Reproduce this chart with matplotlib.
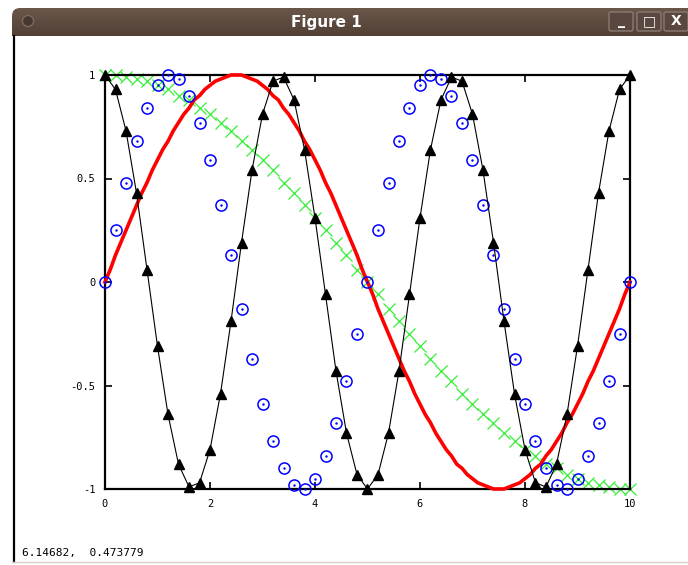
import numpy as np
import matplotlib
matplotlib.use("Agg")
import matplotlib.pyplot as plt
from matplotlib.patches import FancyBboxPatch, Ellipse
from matplotlib.lines import Line2D

# sample positions (step 0.2) for the marker series
x = [0.0, 0.2, 0.4, 0.6, 0.8, 1.0, 1.2, 1.4, 1.6, 1.8,
     2.0, 2.2, 2.4, 2.6, 2.8, 3.0, 3.2, 3.4, 3.6, 3.8,
     4.0, 4.2, 4.4, 4.6, 4.8, 5.0, 5.2, 5.4, 5.6, 5.8,
     6.0, 6.2, 6.4, 6.6, 6.8, 7.0, 7.2, 7.4, 7.6, 7.8,
     8.0, 8.2, 8.4, 8.6, 8.8, 9.0, 9.2, 9.4, 9.6, 9.8, 10.0]

# thick red curve, read every 0.1
x_red = [0.0, 0.1, 0.2, 0.3, 0.4, 0.5, 0.6, 0.7, 0.8, 0.9,
         1.0, 1.1, 1.2, 1.3, 1.4, 1.5, 1.6, 1.7, 1.8, 1.9,
         2.0, 2.1, 2.2, 2.3, 2.4, 2.5, 2.6, 2.7, 2.8, 2.9,
         3.0, 3.1, 3.2, 3.3, 3.4, 3.5, 3.6, 3.7, 3.8, 3.9,
         4.0, 4.1, 4.2, 4.3, 4.4, 4.5, 4.6, 4.7, 4.8, 4.9,
         5.0, 5.1, 5.2, 5.3, 5.4, 5.5, 5.6, 5.7, 5.8, 5.9,
         6.0, 6.1, 6.2, 6.3, 6.4, 6.5, 6.6, 6.7, 6.8, 6.9,
         7.0, 7.1, 7.2, 7.3, 7.4, 7.5, 7.6, 7.7, 7.8, 7.9,
         8.0, 8.1, 8.2, 8.3, 8.4, 8.5, 8.6, 8.7, 8.8, 8.9,
         9.0, 9.1, 9.2, 9.3, 9.4, 9.5, 9.6, 9.7, 9.8, 9.9, 10.0]
red = [0.00, 0.06, 0.13, 0.19, 0.25, 0.31, 0.37, 0.43, 0.48, 0.54,
       0.59, 0.64, 0.68, 0.73, 0.77, 0.81, 0.84, 0.88, 0.90, 0.93,
       0.95, 0.97, 0.98, 0.99, 1.00, 1.00, 1.00, 0.99, 0.98, 0.97,
       0.95, 0.93, 0.90, 0.88, 0.84, 0.81, 0.77, 0.73, 0.68, 0.64,
       0.59, 0.54, 0.48, 0.43, 0.37, 0.31, 0.25, 0.19, 0.13, 0.06,
       0.00, -0.06, -0.13, -0.19, -0.25, -0.31, -0.37, -0.43, -0.48, -0.54,
       -0.59, -0.64, -0.68, -0.73, -0.77, -0.81, -0.84, -0.88, -0.90, -0.93,
       -0.95, -0.97, -0.98, -0.99, -1.00, -1.00, -1.00, -0.99, -0.98, -0.97,
       -0.95, -0.93, -0.90, -0.88, -0.84, -0.81, -0.77, -0.73, -0.68, -0.64,
       -0.59, -0.54, -0.48, -0.43, -0.37, -0.31, -0.25, -0.19, -0.13, -0.06, 0.00]

# black triangles joined by a thin line
black = [1.00, 0.93, 0.73, 0.43, 0.06, -0.31, -0.64, -0.88, -0.99, -0.97,
         -0.81, -0.54, -0.19, 0.19, 0.54, 0.81, 0.97, 0.99, 0.88, 0.64,
         0.31, -0.06, -0.43, -0.73, -0.93, -1.00, -0.93, -0.73, -0.43, -0.06,
         0.31, 0.64, 0.88, 0.99, 0.97, 0.81, 0.54, 0.19, -0.19, -0.54,
         -0.81, -0.97, -0.99, -0.88, -0.64, -0.31, 0.06, 0.43, 0.73, 0.93, 1.00]

# blue circles
blue = [0.00, 0.25, 0.48, 0.68, 0.84, 0.95, 1.00, 0.98, 0.90, 0.77,
        0.59, 0.37, 0.13, -0.13, -0.37, -0.59, -0.77, -0.90, -0.98, -1.00,
        -0.95, -0.84, -0.68, -0.48, -0.25, 0.00, 0.25, 0.48, 0.68, 0.84,
        0.95, 1.00, 0.98, 0.90, 0.77, 0.59, 0.37, 0.13, -0.13, -0.37,
        -0.59, -0.77, -0.90, -0.98, -1.00, -0.95, -0.84, -0.68, -0.48, -0.25, 0.00]

# green crosses
green = [1.00, 1.00, 0.99, 0.98, 0.97, 0.95, 0.93, 0.90, 0.88, 0.84,
         0.81, 0.77, 0.73, 0.68, 0.64, 0.59, 0.54, 0.48, 0.43, 0.37,
         0.31, 0.25, 0.19, 0.13, 0.06, 0.00, -0.06, -0.13, -0.19, -0.25,
         -0.31, -0.37, -0.43, -0.48, -0.54, -0.59, -0.64, -0.68, -0.73, -0.77,
         -0.81, -0.84, -0.88, -0.90, -0.93, -0.95, -0.97, -0.98, -0.99, -1.00, -1.00]

xticks = [0, 2, 4, 6, 8, 10]
yticks = [-1, -0.5, 0, 0.5, 1]
yticklabels = ["-1", "-0.5", "0", "0.5", "1"]

W, H = 688, 565
fig = plt.figure(figsize=(W / 100, H / 100), dpi=100)
fig.patch.set_facecolor("white")

def fx(px):
    return px / W

def fy(py):
    return 1 - py / H

# window title bar: vertical gradient, rounded top-left corner
tb = fig.add_axes([fx(12), fy(36), fx(W - 12), fy(8) - fy(36)])
grad = np.linspace(0, 1, 64).reshape(-1, 1)
top_c = np.array([0.42, 0.34, 0.29])
bot_c = np.array([0.32, 0.25, 0.21])
img = top_c[None, None, :] * (1 - grad[:, :, None]) + bot_c[None, None, :] * grad[:, :, None]
im = tb.imshow(img, aspect="auto", extent=[0, 1, 0, 1])
clip = FancyBboxPatch((0, -0.5), 1.2, 1.5, boxstyle="round,pad=0,rounding_size=0.012",
                      mutation_aspect=24, transform=tb.transAxes,
                      facecolor="none", edgecolor="none")
tb.add_patch(clip)
im.set_clip_path(clip)
tb.set_xlim(0, 1)
tb.set_ylim(0, 1)
tb.set_axis_off()
tb.text(0.465, 0.5, "Figure 1", color="white", fontsize=11, fontweight="bold",
        ha="center", va="center", family="DejaVu Sans")
fig.patches.append(Ellipse((fx(28), fy(21)), fx(11), 11 / H, transform=fig.transFigure,
                           facecolor="#47382f", edgecolor="#7d6c62", lw=0.9))
# window buttons
for bx, sym in [(609, "_"), (637, "□"), (664, "X")]:
    fig.patches.append(FancyBboxPatch((fx(bx), fy(31)), fx(24), fy(12) - fy(31),
                                      boxstyle="round,pad=0,rounding_size=0.003",
                                      transform=fig.transFigure, facecolor="#5a4840",
                                      edgecolor="#8a7a70", lw=1))
    fig.text(fx(bx + 12), fy(21), sym, color="white", fontsize=10, fontweight="bold",
             ha="center", va="center")

# window left border and bottom edge
fig.lines.append(Line2D([fx(14), fx(14)], [fy(36), fy(562)], transform=fig.transFigure,
                        color="black", lw=1.6))
fig.lines.append(Line2D([fx(12), fx(W)], [fy(562), fy(562)], transform=fig.transFigure,
                        color="#d8d0cc", lw=1))

# plot area
ax = fig.add_axes([fx(105), fy(489), fx(630) - fx(105), fy(75) - fy(489)])
ax.plot(x, green, linestyle="none", marker="x", color="#33ee33", markersize=8.5,
        markeredgewidth=0.9, clip_on=False, zorder=2)
ax.plot(x_red, red, color="#ff0000", lw=2.6, zorder=3, clip_on=False,
        solid_joinstyle="round")
ax.plot(x, blue, linestyle="none", marker="o", markerfacecolor="none",
        markeredgecolor="#0000ff", markersize=8, markeredgewidth=1.1, clip_on=False, zorder=4)
ax.plot(x, blue, linestyle="none", marker=".", color="#0000ff", markersize=1.5,
        clip_on=False, zorder=4)
ax.plot(x, black, color="black", lw=0.8, marker="^", markersize=6.5, clip_on=False, zorder=5)

ax.set_xlim(0, 10)
ax.set_ylim(-1, 1)
ax.set_xticks(xticks)
ax.set_yticks(yticks)
ax.set_yticklabels(yticklabels)
for s in ax.spines.values():
    s.set_linewidth(1.6)
ax.tick_params(direction="in", length=5, width=1.2, top=True, right=True,
               labelsize=7.5, pad=7)
for lab in ax.get_xticklabels() + ax.get_yticklabels():
    lab.set_family("DejaVu Sans Mono")

# cursor coordinates readout
fig.text(fx(22), fy(553), "6.14682,  0.473779", fontsize=8, family="DejaVu Sans Mono",
         ha="left", va="center")

fig.savefig("out.png", dpi=100)
